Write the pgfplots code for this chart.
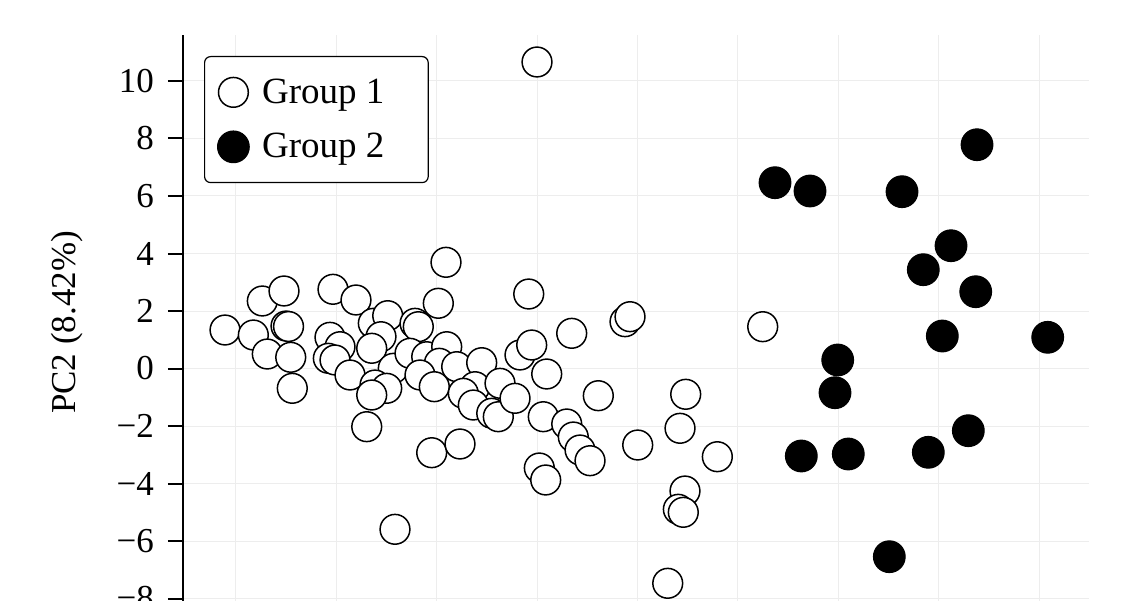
\documentclass[border=0pt]{standalone}
\usepackage{fontspec}
\setmainfont{Liberation Serif}
\usepackage{pgfplots}
\pgfplotsset{compat=1.18}

% PCA scores, group 1
\pgfplotstableread{
x y
-6.215 1.339
-5.651 1.165
-5.472 2.348
-5.040 2.696
-5.000 1.478
-4.950 1.461
-5.373 0.504
-4.906 0.390
-4.875 -0.689
-4.064 2.755
-3.606 2.383
-4.124 1.085
-3.924 0.758
-4.157 0.355
-4.024 0.296
-3.725 -0.226
-3.392 -2.024
-2.829 -5.593
-3.261 1.572
-2.974 1.837
-3.108 1.106
-3.293 0.703
-2.863 0.007
-3.227 -0.574
-2.994 -0.689
-3.293 -0.922
-2.430 1.572
-2.365 1.454
-1.966 2.268
-1.813 3.694
-2.530 0.529
-2.197 0.410
-1.799 0.758
-1.946 0.181
-2.331 -0.226
-2.046 -0.633
-1.600 0.063
-1.102 0.202
-1.235 -0.633
-0.737 -0.515
-1.468 -0.863
-1.269 -1.270
-0.902 -1.558
-0.771 -1.677
-0.438 -1.037
-0.339 0.470
-0.106 0.817
-0.165 2.591
0.193 -0.191
0.125 -1.677
0.592 -1.930
0.723 -2.383
0.857 -2.835
1.056 -3.207
0.691 1.224
1.221 -0.946
1.753 1.628
1.853 1.802
2.006 -2.661
-2.098 -2.929
-1.534 -2.626
0.046 -3.461
0.173 -3.878
0.000 10.661
4.496 1.454
2.962 -0.897
2.849 -2.080
3.592 -3.068
2.948 -4.261
2.815 -4.897
2.914 -5.002
2.604 -7.471
}\groupone

% PCA scores, group 2
\pgfplotstableread{
x y
4.741 6.463
5.438 6.174
7.271 6.150
8.765 7.784
8.247 4.271
7.695 3.437
8.739 2.671
8.074 1.130
10.173 1.085
5.990 0.296
5.936 -0.842
5.265 -3.043
6.201 -2.974
7.795 -2.915
8.592 -2.163
7.018 -6.546
}\grouptwo

\begin{document}
\begin{tikzpicture}
\path[use as bounding box] (0pt,0pt) rectangle (561pt,300pt);
\clip (0pt,0pt) rectangle (561pt,300pt);
\begin{axis}[
  at={(91.5pt,282.5pt)}, anchor=north west,
  x=25.1pt, y=14.375pt,
  xmin=-7.052, xmax=10.996, ymin=-8.4, ymax=11.6,
  axis x line*=bottom, axis y line*=left,
  axis line style={line width=1pt, black},
  xtick={-6,-4,...,10}, xticklabels={},
  ytick={-8,-6,...,10},
  yticklabels={−8,−6,−4,−2,0,2,4,6,8,10},
  tick align=outside,
  major tick length=7.5pt,
  tick style={line width=1pt, black},
  grid=major,
  major grid style={line width=0.5pt, black!7},
  ticklabel style={font=\fontsize{17.5}{21}\selectfont},
  yticklabel style={xshift=-3.5pt},
  ylabel={PC2 (8.42\%)},
  ylabel style={font=\fontsize{17.5}{21}\selectfont,
    at={(axis description cs:-0.128,0.5)}, anchor=center},
  legend style={at={(0,1)}, anchor=north west, xshift=10.5pt, yshift=-10.5pt,
    draw=black, line width=0.6pt, rounded corners=3pt, fill=white,
    font=\fontsize{18.5}{22}\selectfont,
    inner xsep=6.5pt, inner ysep=9pt, row sep=9.5pt, column sep=4.5pt},
  legend cell align=left,
  legend image code/.code={\draw[#1] plot coordinates {(0pt,0pt)};},
]
\addplot[only marks, mark=*, mark size=7.45pt,
  mark options={fill=white, draw=black, line width=0.75pt}] table {\groupone};
\addplot[only marks, mark=*, mark size=7.9pt,
  mark options={fill=black, draw=black, line width=0.6pt}] table {\grouptwo};
\legend{\makebox[74.5pt][l]{Group 1}, \makebox[74.5pt][l]{Group 2}}
\end{axis}
\end{tikzpicture}
\end{document}
